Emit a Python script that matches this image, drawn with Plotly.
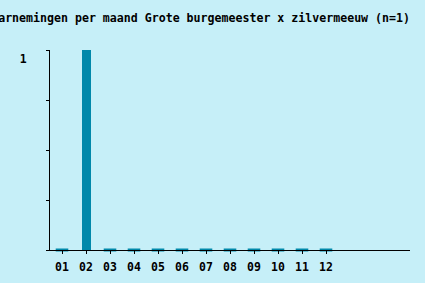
import plotly.graph_objects as go

months = ["01", "02", "03", "04", "05", "06", "07", "08", "09", "10", "11", "12"]
counts = [0, 1, 0, 0, 0, 0, 0, 0, 0, 0, 0, 0]
title_text = "Waarnemingen per maand Grote burgemeester x zilvermeeuw (n=1)"
y_tickvals = [0, 0.25, 0.5, 0.75, 1]
y_ticktext = ["", "", "", "", "1"]

BAR = "#0088AA"
BG = "#C6EFF8"
FONT = "DejaVu Sans Mono"

zero_months = [m for m, c in zip(months, counts) if c == 0]
zero_vals = [c for c in counts if c == 0]

fig = go.Figure()
fig.add_trace(go.Bar(x=months, y=counts, marker_color=BAR, width=0.375,
                     marker_line_width=0, hoverinfo="skip"))
fig.add_trace(go.Scatter(x=zero_months, y=zero_vals, mode="markers",
                         marker=dict(symbol="line-ew", size=9,
                                     line=dict(color=BAR, width=3)),
                         cliponaxis=False, hoverinfo="skip"))

fig.update_layout(
    width=425, height=283,
    margin=dict(l=50, r=15, t=50, b=33, autoexpand=False),
    paper_bgcolor=BG, plot_bgcolor=BG,
    showlegend=False,
    font=dict(family=FONT, size=11.5, color="black"),
    title=dict(text="<b>" + title_text + "</b>", xref="container", yref="container",
               x=410 / 425, xanchor="right", y=1 - 18 / 283, yanchor="middle",
               font=dict(family=FONT, size=11.6, color="black")),
    bargap=0,
)
fig.update_xaxes(
    type="category", categoryorder="array", categoryarray=months,
    range=[-0.5, 14.5], showgrid=False, zeroline=False,
    showline=True, linecolor="black", linewidth=1,
    ticks="outside", ticklen=3, tickcolor="black", tickwidth=1,
    ticklabelstandoff=3, automargin=False,
    tickfont=dict(family=FONT, size=11.5, color="black", weight="bold"),
)
fig.update_yaxes(
    range=[0, 1], showgrid=False, zeroline=False,
    showline=True, linecolor="black", linewidth=1,
    tickvals=y_tickvals, ticktext=y_ticktext,
    ticks="outside", ticklen=3, tickcolor="black", tickwidth=1,
    ticklabelposition="outside bottom", ticklabelstandoff=20, automargin=False,
    tickfont=dict(family=FONT, size=11.5, color="black", weight="bold"),
)

fig.write_html("out.html")
